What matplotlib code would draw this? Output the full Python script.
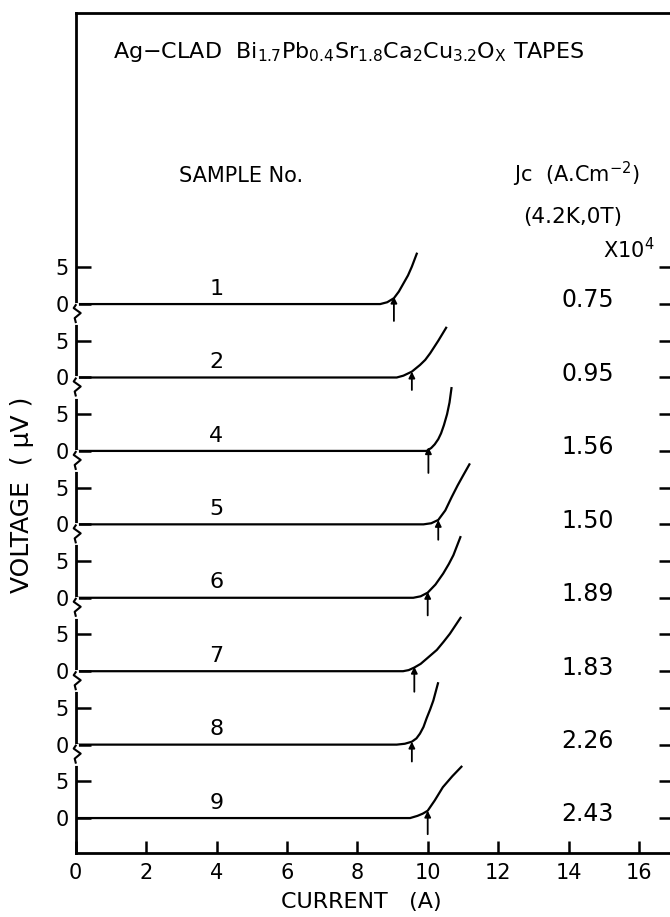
import matplotlib
matplotlib.use("Agg")
import matplotlib.pyplot as plt

plt.rcParams['font.family'] = ['DejaVu Sans']
plt.rcParams['mathtext.default'] = 'regular'

# ---------------- data ----------------
samples = ["1", "2", "4", "5", "6", "7", "8", "9"]
jc_values = ["0.75", "0.95", "1.56", "1.50", "1.89", "1.83", "2.26", "2.43"]
offsets = [70, 60, 50, 40, 30, 20, 10, 0]          # vertical stacking (µV)

curve_I = [
    [0, 8.65, 8.85, 9.04, 9.18, 9.31, 9.44, 9.55, 9.70],
    [0, 9.12, 9.31, 9.55, 9.78, 9.93, 10.07, 10.30, 10.54],
    [0, 9.97, 10.10, 10.20, 10.30, 10.38, 10.46, 10.55, 10.62, 10.68],
    [0, 9.88, 10.10, 10.30, 10.50, 10.68, 10.85, 11.00, 11.20],
    [0, 9.59, 9.80, 10.00, 10.22, 10.44, 10.60, 10.73, 10.94],
    [0, 9.30, 9.46, 9.62, 9.80, 9.97, 10.26, 10.45, 10.63, 10.95],
    [0, 9.12, 9.35, 9.55, 9.68, 9.78, 9.88, 9.97, 10.07, 10.16, 10.30],
    [0, 9.50, 9.71, 9.86, 10.00, 10.20, 10.43, 10.70, 10.98],
]
curve_V = [
    [0, 0, 0.25, 0.8, 1.7, 2.8, 3.9, 5.1, 7.0],
    [0, 0, 0.25, 0.8, 1.7, 2.4, 3.3, 5.0, 6.9],
    [0, 0, 0.4, 0.9, 1.6, 2.4, 3.5, 5.0, 6.6, 8.7],
    [0, 0, 0.15, 0.6, 1.9, 3.7, 5.3, 6.6, 8.3],
    [0, 0, 0.2, 0.7, 1.8, 3.3, 4.6, 5.8, 8.4],
    [0, 0, 0.15, 0.5, 1.0, 1.7, 2.9, 4.0, 5.1, 7.4],
    [0, 0, 0.12, 0.4, 0.85, 1.5, 2.4, 3.6, 4.8, 6.0, 8.5],
    [0, 0, 0.3, 0.6, 1.0, 2.4, 4.2, 5.7, 7.1],
]
ic_current = [9.04, 9.55, 10.02, 10.30, 10.00, 9.62, 9.55, 10.00]
arrow_tip = [1.0, 0.8, 0.5, 0.6, 0.8, 0.6, 0.4, 1.0]
arrow_tail = [-2.3, -1.7, -3.0, -2.1, -2.4, -2.8, -2.3, -2.2]

x_ticks = [0, 2, 4, 6, 8, 10, 12, 14, 16]
x_ticklabels = ["0", "2", "4", "6", "8", "10", "12", "14", "16"]

# ---------------- figure ----------------
W, H = 670, 917
fig = plt.figure(figsize=(W / 100, H / 100), dpi=100)
left_px, right_px, top_px, bot_px = 75.7, 75.7 + 17 * 35.2, 13.3, 853.3
ax = fig.add_axes([left_px / W, 1 - bot_px / H, (right_px - left_px) / W, (bot_px - top_px) / H])
ax.set_xlim(0, 17)
ax.set_ylim(-4.8, 109.6)

lw = 1.6
for s in ax.spines.values():
    s.set_linewidth(2.0)

for k, (off, I, V) in enumerate(zip(offsets, curve_I, curve_V)):
    ax.plot(I, [v + off for v in V], color='black', lw=lw, solid_capstyle='butt',
            solid_joinstyle='round')
    ax.annotate('', xy=(ic_current[k], off + arrow_tip[k]), xytext=(ic_current[k], off + arrow_tail[k]),
                arrowprops=dict(arrowstyle='-|>', lw=1.3, color='black', mutation_scale=9,
                                shrinkA=0, shrinkB=0))
    ax.text(4.0, off + 2.1, samples[k], ha='center', va='center', fontsize=16)
    ax.text(14.55, off + 0.5, jc_values[k], ha='center', va='center', fontsize=17)

# y ticks: 0 and 5 of every panel
yt = []
ytl = []
for off in sorted(offsets):
    yt += [off, off + 5]
    ytl += ["0", "5"]
ax.set_yticks(yt)
ax.set_yticklabels(ytl)
ax.set_xticks(x_ticks)
ax.set_xticklabels(x_ticklabels)
ax.tick_params(axis='y', direction='in', length=11, width=1.8, labelsize=15, pad=5,
               right=True, labelright=False)
ax.tick_params(axis='x', direction='in', length=8.5, width=1.8, labelsize=15, pad=7)

# axis break marks on both vertical spines
px_x = 1 / 35.2
px_y = 1 / 7.34
zz_dx = [0, -2, 5, -1, 0]
zz_dy = [-1, -4, -9, -14, -18]
for off in offsets[:-1]:
    for xs in (0, 17):
        ax.plot([xs, xs], [off - 1 * px_y, off - 18 * px_y], color='white', lw=3.5, clip_on=False, zorder=5)
        ax.plot([xs + d * px_x for d in zz_dx], [off + d * px_y for d in zz_dy],
                color='black', lw=1.5, clip_on=False, zorder=6)

# headers
ax.text(1.05, 103.5, r"Ag$-$CLAD  Bi$_{1.7}$Pb$_{0.4}$Sr$_{1.8}$Ca$_{2}$Cu$_{3.2}$O$_{X}$ TAPES",
        ha='left', va='baseline', fontsize=16)
ax.text(4.7, 86.6, "SAMPLE No.", ha='center', va='baseline', fontsize=15)
ax.text(12.43, 86.6, r"Jc  (A.Cm$^{-2}$)", ha='left', va='baseline', fontsize=15)
ax.text(12.71, 81.1, "(4.2K,0T)", ha='left', va='baseline', fontsize=15.5)
ax.text(14.98, 76.3, r"X10$^{4}$", ha='left', va='baseline', fontsize=15)

fig.text(361.5 / W, 1 - 901.7 / H, "CURRENT   (A)", ha='center', va='center', fontsize=16)
fig.text(22 / W, 1 - 495 / H, "VOLTAGE  ( µV )", ha='center', va='center', rotation=90, fontsize=18)

fig.savefig("out.png", dpi=100)
